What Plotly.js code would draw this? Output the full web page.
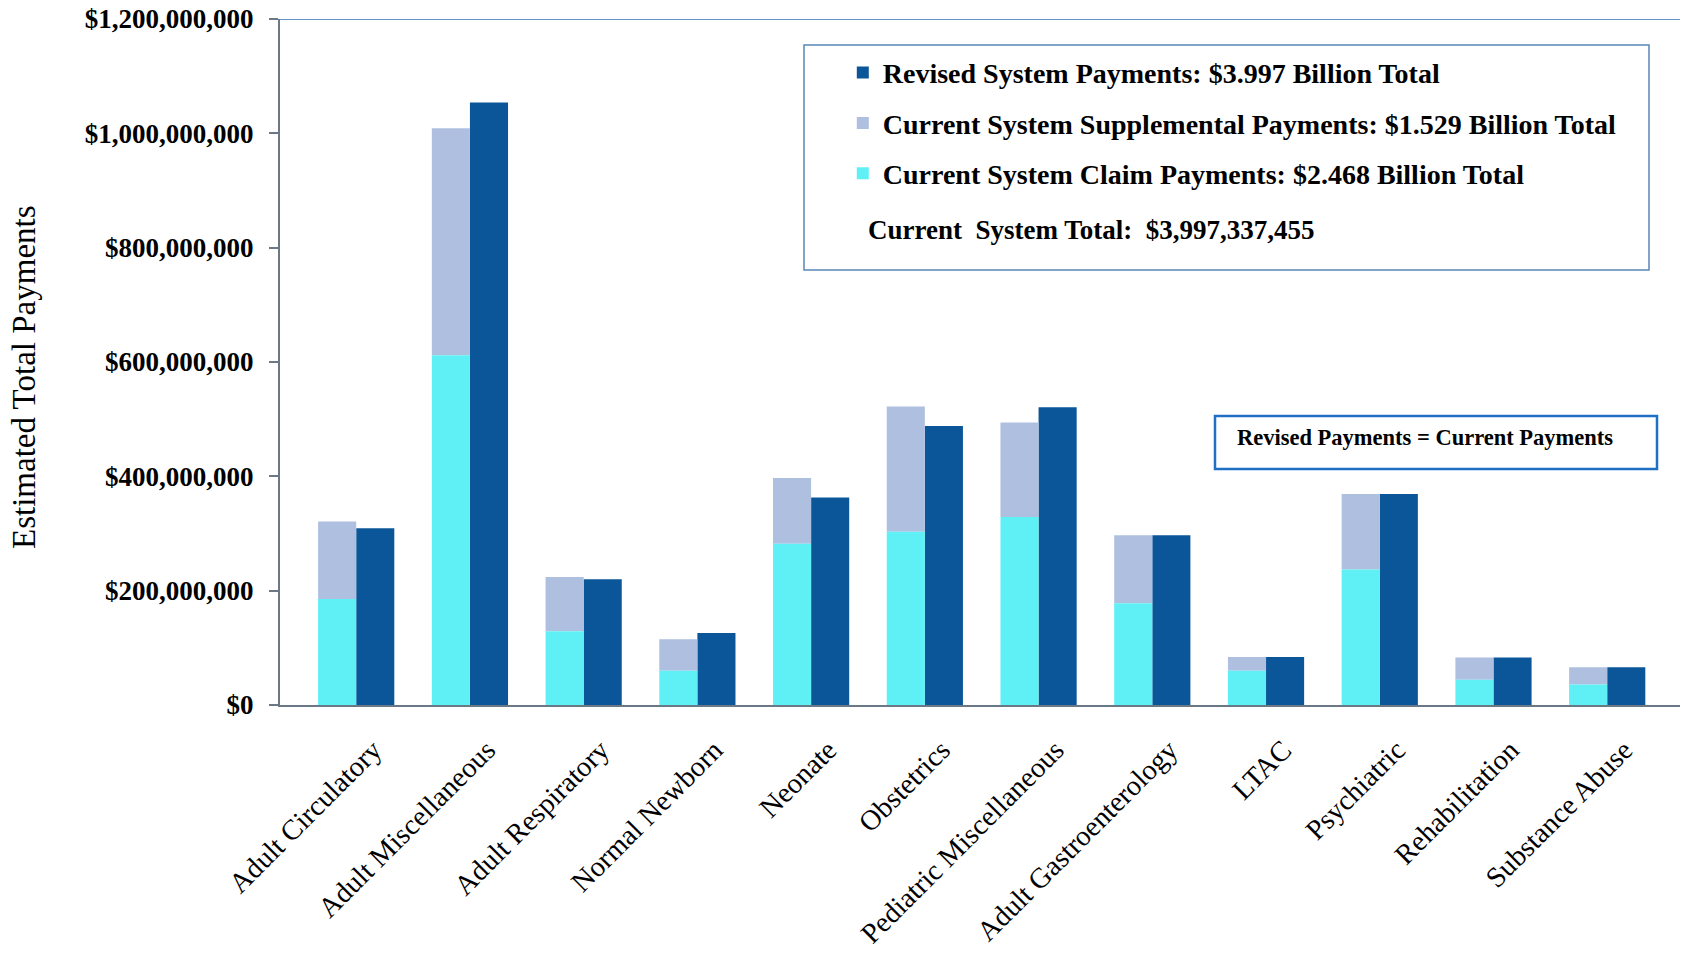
<!DOCTYPE html>
<html>
<head>
<meta charset="utf-8">
<script src="https://cdn.plot.ly/plotly-3.0.1.min.js"></script>
<style>html,body{margin:0;padding:0;background:#fff;}#chart{width:1682px;height:953px;}</style>
</head>
<body>
<div id="chart"></div>
<script>
const categories = ["Adult Circulatory","Adult Miscellaneous","Adult Respiratory","Normal Newborn","Neonate","Obstetrics","Pediatric Miscellaneous","Adult Gastroenterology","LTAC","Psychiatric","Rehabilitation","Substance Abuse"];
const claimPayments = [185500000,612000000,129000000,60000000,282000000,303000000,329000000,178000000,60000000,237000000,44000000,36000000];
const supplementalPayments = [135500000,397000000,95000000,55000000,115000000,219000000,165000000,119000000,24000000,132000000,39000000,30000000];
const revisedPayments = [309000000,1054000000,220000000,126000000,363000000,488000000,521000000,297000000,84000000,369000000,83000000,66000000];
const yTickVals = [0,200000000,400000000,600000000,800000000,1000000000,1200000000];
const yTickText = ["$0","$200,000,000","$400,000,000","$600,000,000","$800,000,000","$1,000,000,000","$1,200,000,000"];
const seriesNames = ["Revised System Payments: $3.997 Billion Total","Current System Supplemental Payments: $1.529 Billion Total","Current System Claim Payments: $2.468 Billion Total"];
const totalText = "Current&nbsp;&nbsp;System Total:&nbsp;&nbsp;$3,997,337,455";
const noteText = "Revised Payments = Current Payments";
const yTitle = "Estimated Total Payments";

const FONT = "Liberation Serif, Times New Roman, serif";
const W = 0.335;
const traces = [
  {type:'bar', x:categories, y:revisedPayments, name:seriesNames[0], legendgroup:'r', legendrank:1,
   marker:{color:'#0A5699', line:{width:0}}, width:W, offset:0},
  {type:'bar', x:categories, y:supplementalPayments, base:claimPayments, name:seriesNames[1], legendgroup:'s', legendrank:2,
   marker:{color:'#AEBFE0', line:{width:0}}, width:W, offset:-W},
  {type:'bar', x:categories, y:claimPayments, name:seriesNames[2], legendgroup:'c', legendrank:3,
   marker:{color:'#5FF0F5', line:{width:0}}, width:W, offset:-W}
];
const layout = {
  width:1682, height:953,
  margin:{l:280, r:2, t:19, b:248},
  paper_bgcolor:'#fff', plot_bgcolor:'#fff',
  barmode:'overlay',
  showlegend:true,
  font:{family:FONT, color:'#000'},
  legend:{x:0.402, y:0.958, xanchor:'left', yanchor:'top', bgcolor:'rgba(0,0,0,0)', borderwidth:0,
          font:{family:FONT, size:28, weight:'bold', color:'#000'}, traceorder:'grouped', tracegroupgap:11},
  xaxis:{type:'category', range:[-0.67, 11.64], showgrid:false, zeroline:false, showline:true, linecolor:'#6B7886', linewidth:2,
         ticks:'', tickangle:-45, tickfont:{family:FONT, size:28.5, color:'#000'}, ticklabelshift:17, ticklabelstandoff:15, fixedrange:true},
  yaxis:{range:[0,1200000000], showgrid:false, zeroline:false, showline:true, linecolor:'#6B7886', linewidth:2,
         ticks:'outside', ticklen:9, tickwidth:2, tickcolor:'#6B7886', tickvals:yTickVals, ticktext:yTickText,
         tickfont:{family:FONT, size:27, weight:'bold', color:'#000'}, ticklabelstandoff:10},
  shapes:[
    {type:'line', xref:'paper', yref:'y', x0:0, x1:1, y0:1200000000, y1:1200000000, line:{color:'#2E75B6', width:1.5}},
    {type:'rect', xref:'paper', yref:'paper', x0:(804-280)/1400, x1:(1649-280)/1400, y0:(705-270)/686, y1:(705-45)/686,
     line:{color:'#5B86B8', width:1.5}, fillcolor:'rgba(0,0,0,0)'},
    {type:'rect', xref:'paper', yref:'paper', x0:(1215-280)/1400, x1:(1657-280)/1400, y0:(705-469)/686, y1:(705-416)/686,
     line:{color:'#1F6FC5', width:2.5}, fillcolor:'rgba(0,0,0,0)'}
  ],
  annotations:[
    {xref:'paper', yref:'paper', x:(24-280)/1400, y:(705-377)/686, xanchor:'center', yanchor:'middle', showarrow:false,
     textangle:-90, text:yTitle, font:{family:FONT, size:33, color:'#000'}},
    {xref:'paper', yref:'paper', x:(866-280)/1400, y:(705-229.5)/686, xanchor:'left', yanchor:'middle', showarrow:false,
     text:totalText, font:{family:FONT, size:27, weight:'bold', color:'#000'}},
    {xref:'paper', yref:'paper', x:(1235-280)/1400, y:(705-437.5)/686, xanchor:'left', yanchor:'middle', showarrow:false,
     text:noteText, font:{family:FONT, size:22.5, weight:'bold', color:'#000'}}
  ]
};
Plotly.newPlot('chart', traces, layout, {displayModeBar:false, staticPlot:true});
</script>
</body>
</html>
